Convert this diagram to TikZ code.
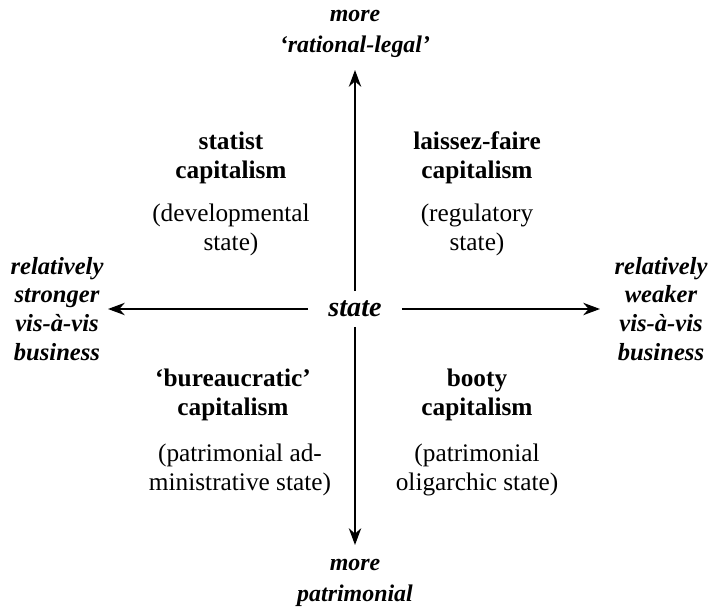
\documentclass[tikz,border=0pt]{standalone}
\usepackage{fontspec}
\setmainfont{Liberation Serif}
\usetikzlibrary{positioning, arrows.meta}

\begin{document}
\begin{tikzpicture}[x=0.025cm, y=-0.025cm, >={Stealth[length=4.2mm, width=3.1mm]},
    axis/.style={font=\fontsize{17.5}{20.5}\selectfont\bfseries\itshape, align=center},
    title/.style={font=\fontsize{18}{21}\selectfont\bfseries, align=center},
    note/.style={font=\fontsize{18}{21}\selectfont, align=center},
    arrow/.style={->, line width=1.1pt}]
    \useasboundingbox (0,0) rectangle (710,610);

    % centre and axis ends
    \node[axis, font=\fontsize{20}{22}\selectfont\bfseries\itshape, inner sep=0pt,
          minimum width=2.325cm, minimum height=0.875cm] (state) at (355,309) {state};
    \coordinate (top) at (355,70);
    \coordinate (bottom) at (355,545);
    \coordinate (left) at (108,309);
    \coordinate (right) at (600,309);

    % axis labels
    \node[axis, font=\fontsize{17}{22}\selectfont\bfseries\itshape] (rational) at (355,34) {more\\`rational-legal'};
    \node[axis, font=\fontsize{17}{22}\selectfont\bfseries\itshape] (patrimonial) at (355,583) {more\\patrimonial};
    \node[axis] (stronger) at (57,309) {relatively\\stronger\\vis-à-vis\\business};
    \node[axis] (weaker) at (661,309) {relatively\\weaker\\vis-à-vis\\business};

    % quadrants
    \node[title] (statist) at (231,158) {statist\\capitalism};
    \node[note] (developmental) at (231,230) {(developmental\\state)};
    \node[title] (laissez) at (477,158) {laissez-faire\\capitalism};
    \node[note] (regulatory) at (477,230) {(regulatory\\state)};
    \node[title] (bureaucratic) at (233,395) {`bureaucratic'\\capitalism};
    \node[note] (administrative) at (240,470) {(patrimonial ad-\\ministrative state)};
    \node[title] (booty) at (477,395) {booty\\capitalism};
    \node[note] (oligarchic) at (477,470) {(patrimonial\\oligarchic state)};

    % arrows
    \draw[arrow] (state) -- (top);
    \draw[arrow] (state) -- (bottom);
    \draw[arrow] (state) -- (left);
    \draw[arrow] (state) -- (right);
\end{tikzpicture}
\end{document}
